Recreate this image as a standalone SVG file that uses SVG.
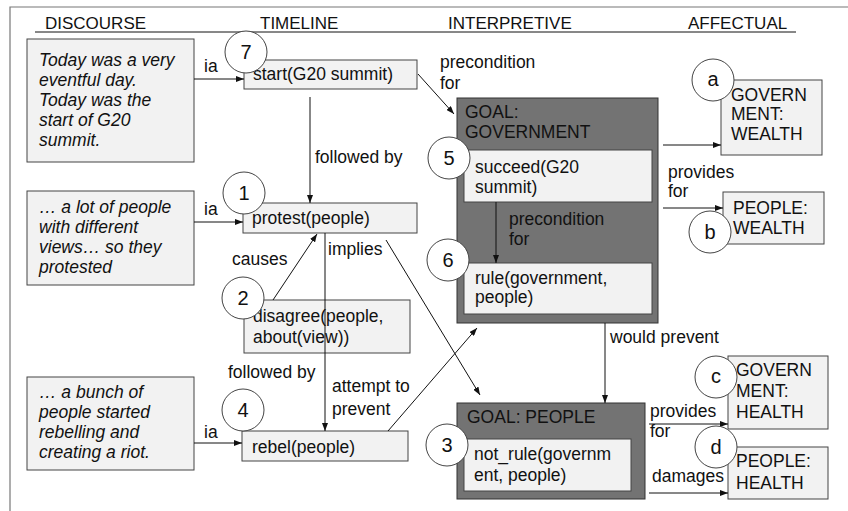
<svg xmlns="http://www.w3.org/2000/svg" width="848" height="511" viewBox="0 0 848 511">
<defs>
<style>
text{font-family:"Liberation Sans",Arial,sans-serif;font-size:17.5px;fill:#111}
.hd{font-size:17px}
.it{font-style:italic}
.num{font-size:20px;text-anchor:middle}
.box{fill:#f2f2f2;stroke:#444;stroke-width:1}
.goal{fill:#737373;stroke:#333;stroke-width:1}
.circ{fill:#fff;stroke:#444;stroke-width:1}
.conn{stroke:#111;stroke-width:1;fill:none;marker-end:url(#ah)}
</style>
<marker id="ah" markerUnits="userSpaceOnUse" markerWidth="8" markerHeight="6" refX="8" refY="3" orient="auto">
<path d="M0,0 L8,3 L0,6 z" fill="#111"/>
</marker>
</defs>
<rect width="848" height="511" fill="#fff"/>
<path d="M10,600 V7 H900" fill="none" stroke="#777" stroke-width="1.2"/>
<g id="headers">
<text class="hd" x="45" y="29">DISCOURSE</text>
<text class="hd" x="260" y="29">TIMELINE</text>
<text class="hd" x="448" y="29">INTERPRETIVE</text>
<text class="hd" x="688" y="29">AFFECTUAL</text>
<line x1="35" y1="32" x2="796" y2="32" stroke="#111" stroke-width="1"/>
</g>
<g id="d1"><rect class="box" x="27" y="39" width="167" height="123"/>
<text class="it" x="39" y="66">Today was a very</text>
<text class="it" x="39" y="86">eventful day.</text>
<text class="it" x="39" y="106">Today was the</text>
<text class="it" x="39" y="126">start of G20</text>
<text class="it" x="39" y="146">summit.</text></g>
<g id="d2"><rect class="box" x="27" y="191" width="167" height="94"/>
<text class="it" x="39" y="213">… a lot of people</text>
<text class="it" x="39" y="233">with different</text>
<text class="it" x="39" y="253">views… so they</text>
<text class="it" x="39" y="273">protested</text></g>
<g id="d3"><rect class="box" x="27" y="377" width="167" height="93"/>
<text class="it" x="39" y="398">… a bunch of</text>
<text class="it" x="39" y="418">people started</text>
<text class="it" x="39" y="438">rebelling and</text>
<text class="it" x="39" y="458">creating a riot.</text></g>
<g id="start"><rect class="box" x="244" y="60" width="173" height="29"/>
<text x="253" y="80">start(G20 summit)</text></g>
<g id="protest"><rect class="box" x="243" y="203" width="174" height="30"/>
<text x="252" y="224">protest(people)</text></g>
<g id="disagree"><rect class="box" x="244" y="300" width="166" height="53"/>
<text x="253" y="322">disagree(people,</text>
<text x="253" y="343">about(view))</text></g>
<g id="rebel"><rect class="box" x="242" y="431" width="166" height="30"/>
<text x="252" y="453">rebel(people)</text></g>
<g id="goalgov"><rect class="goal" x="457" y="98" width="201" height="225"/>
<text x="465" y="118">GOAL:</text>
<text x="465" y="138">GOVERNMENT</text>
<rect class="box" x="464" y="150" width="188" height="52"/>
<text x="475" y="173">succeed(G20</text>
<text x="475" y="193">summit)</text>
<rect class="box" x="464" y="263" width="188" height="51"/>
<text x="475" y="284">rule(government,</text>
<text x="475" y="303">people)</text></g>
<g id="goalpeople"><rect class="goal" x="457" y="403" width="188" height="96"/>
<text x="467" y="423">GOAL: PEOPLE</text>
<rect class="box" x="464" y="439" width="167" height="52"/>
<text x="474" y="460">not_rule(governm</text>
<text x="474" y="481">ent, people)</text></g>
<g id="govwealth"><rect class="box" x="721" y="80" width="101" height="75"/>
<text x="731" y="101">GOVERN</text>
<text x="731" y="120">MENT:</text>
<text x="731" y="140">WEALTH</text></g>
<g id="peoplewealth"><rect class="box" x="723" y="192" width="101" height="52"/>
<text x="733" y="214">PEOPLE:</text>
<text x="733" y="234">WEALTH</text></g>
<g id="govhealth"><rect class="box" x="728" y="356" width="100" height="73"/>
<text x="736" y="376">GOVERN</text>
<text x="736" y="397">MENT:</text>
<text x="736" y="418">HEALTH</text></g>
<g id="peoplehealth"><rect class="box" x="728" y="447" width="100" height="52"/>
<text x="736" y="467">PEOPLE:</text>
<text x="736" y="489">HEALTH</text></g>
<g id="connectors">
<line class="conn" x1="194" y1="79" x2="244" y2="79"/>
<line class="conn" x1="194" y1="222" x2="243" y2="222"/>
<line class="conn" x1="194" y1="443" x2="242" y2="443"/>
<line class="conn" x1="310" y1="97" x2="310" y2="203"/>
<line class="conn" x1="273" y1="300" x2="317" y2="234"/>
<line class="conn" x1="325" y1="233" x2="325" y2="431"/>
<line class="conn" x1="386" y1="240" x2="480" y2="395"/>
<line class="conn" x1="388" y1="431" x2="477" y2="328"/>
<line class="conn" x1="418" y1="74" x2="454" y2="114"/>
<line class="conn" x1="496" y1="202" x2="496" y2="263"/>
<line class="conn" x1="663" y1="145" x2="721" y2="145"/>
<line class="conn" x1="663" y1="208" x2="723" y2="208"/>
<line class="conn" x1="605" y1="323" x2="605" y2="403"/>
<line class="conn" x1="649" y1="424" x2="728" y2="424"/>
<line class="conn" x1="649" y1="493" x2="728" y2="493"/>
<text x="204" y="72">ia</text>
<text x="204" y="215">ia</text>
<text x="204" y="438">ia</text>
<text x="315" y="163">followed by</text>
<text x="232" y="265">causes</text>
<text x="328" y="255">implies</text>
<text x="228" y="378">followed by</text>
<text x="332" y="392">attempt to</text>
<text x="332" y="415">prevent</text>
<text x="440" y="68">precondition</text>
<text x="440" y="89">for</text>
<text x="509" y="225">precondition</text>
<text x="509" y="245">for</text>
<text x="668" y="178">provides</text>
<text x="668" y="197">for</text>
<text x="610" y="343">would prevent</text>
<text x="650" y="417">provides</text>
<text x="650" y="437">for</text>
<text x="652" y="482">damages</text>
</g>
<g id="c7"><circle class="circ" cx="246" cy="52" r="21"/><text class="num" x="246" y="59">7</text></g>
<g id="c1"><circle class="circ" cx="244" cy="193" r="21"/><text class="num" x="244" y="200">1</text></g>
<g id="c2"><circle class="circ" cx="243" cy="298" r="21"/><text class="num" x="243" y="305">2</text></g>
<g id="c4"><circle class="circ" cx="243" cy="410" r="21"/><text class="num" x="243" y="417">4</text></g>
<g id="c5"><circle class="circ" cx="449" cy="158" r="21"/><text class="num" x="449" y="165">5</text></g>
<g id="c6"><circle class="circ" cx="448" cy="260" r="21"/><text class="num" x="448" y="267">6</text></g>
<g id="c3"><circle class="circ" cx="447" cy="445" r="21"/><text class="num" x="447" y="452">3</text></g>
<g id="ca"><circle class="circ" cx="713" cy="80" r="21"/><text class="num" x="713" y="86">a</text></g>
<g id="cb"><circle class="circ" cx="710" cy="232" r="21"/><text class="num" x="710" y="239">b</text></g>
<g id="cc"><circle class="circ" cx="716" cy="377" r="21"/><text class="num" x="716" y="383">c</text></g>
<g id="cd"><circle class="circ" cx="716" cy="447" r="21"/><text class="num" x="716" y="454">d</text></g>
</svg>
